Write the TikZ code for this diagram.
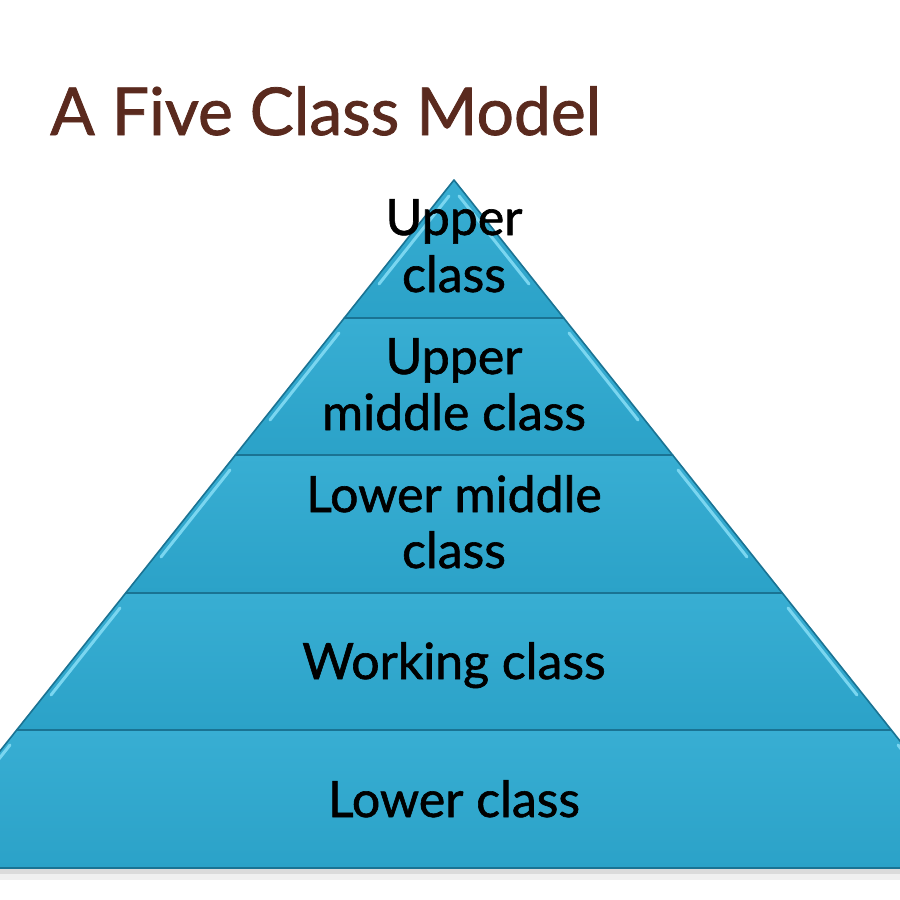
\documentclass[tikz,border=0pt]{standalone}
\usepackage{fontspec}
\setmainfont{Lato}
\newfontfamily\heavy[FakeBold=1.2]{Lato}
\usetikzlibrary{calc}
\definecolor{tierfill}{HTML}{2BA2C8}
\definecolor{tiertop}{HTML}{38AED3}
\definecolor{tierline}{HTML}{1A7393}
\definecolor{bevel}{HTML}{7AD6F0}
\definecolor{titlebrown}{HTML}{5A2A1E}
\tikzset{
  tier/.style={top color=tiertop, bottom color=tierfill, draw=tierline, line width=1.6pt, line join=round},
  bevelline/.style={draw=bevel, line width=3pt, line cap=round},
  lbl/.style={anchor=base, font=\heavy\fontsize{50}{58}\selectfont, text=black, inner sep=0pt},
  titlelbl/.style={anchor=base west, font=\heavy\fontsize{66}{72}\selectfont, text=titlebrown, inner sep=0pt}
}
\begin{document}
\begin{tikzpicture}[x=1pt,y=-1pt]
\useasboundingbox (0,0) rectangle (900,900);
\fill[white] (0,0) rectangle (900,900);
\begin{scope}
\clip (0,0) rectangle (900,900);
% shadow
\fill[black!14] (-93,868) rectangle (1001,874);
\fill[black!6] (-93,874) rectangle (1001,880);
% tiers
\path[tier] (454,180) -- (563.7,318) -- (344.3,318) -- cycle;
\path[tier] (344.3,318) -- (563.7,318) -- (672.6,455) -- (235.4,455) -- cycle;
\path[tier] (235.4,455) -- (672.6,455) -- (782.3,593) -- (125.7,593) -- cycle;
\path[tier] (125.7,593) -- (782.3,593) -- (891.3,730) -- (16.7,730) -- cycle;
\path[tier] (16.7,730) -- (891.3,730) -- (1001,868) -- (-93,868) -- cycle;
% bevel highlights
\draw[bevelline] (449,196) -- (379,284);
\draw[bevelline] (459,196) -- (529,284);
\draw[bevelline] (339,333) -- (270,420);
\draw[bevelline] (569,333) -- (638,420);
\draw[bevelline] (230,470) -- (161,557);
\draw[bevelline] (678,470) -- (747,557);
\draw[bevelline] (120,608) -- (51,695);
\draw[bevelline] (788,608) -- (857,695);
\draw[bevelline] (10,745) -- (-59,832);
\draw[bevelline] (898,745) -- (967,832);
\end{scope}
% title
\node[titlelbl] (title) at (50,135) {A Five Class Model};
% labels
\node[lbl] (t1a) at (454,235) {Upper};
\node[lbl] (t1b) at (454,292) {class};
\node[lbl] (t2a) at (454,374) {Upper};
\node[lbl] (t2b) at (454,430) {middle class};
\node[lbl] (t3a) at (454,512) {Lower middle};
\node[lbl] (t3b) at (454,568) {class};
\node[lbl] (t4) at (454,679) {Working class};
\node[lbl] (t5) at (454,817) {Lower class};
\end{tikzpicture}
\end{document}
